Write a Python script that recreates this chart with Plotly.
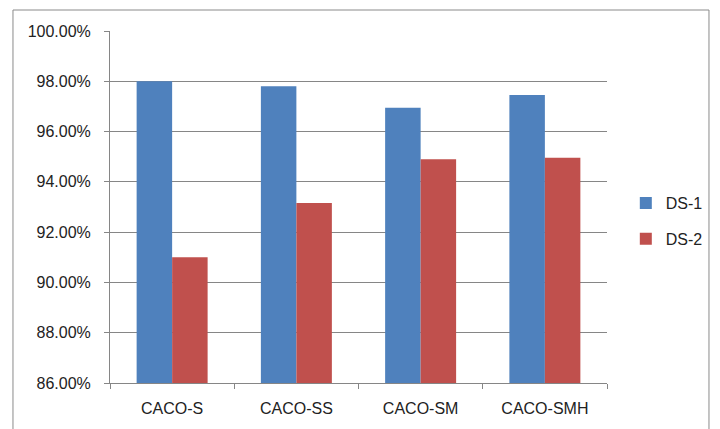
import plotly.graph_objects as go

categories = ["CACO-S", "CACO-SS", "CACO-SM", "CACO-SMH"]
ds1 = [0.980, 0.978, 0.9695, 0.9745]
ds2 = [0.910, 0.9316, 0.949, 0.9496]
series_names = ["DS-1", "DS-2"]
tick_vals = [0.86, 0.88, 0.90, 0.92, 0.94, 0.96, 0.98, 1.00]

W, H = 720, 429
L, R, T, B = 110, 108, 31, 46
pw = W - L - R
ph = H - T - B

FONT = "Liberation Sans"

fig = go.Figure()
fig.add_trace(go.Bar(x=categories, y=ds1, name=series_names[0],
                     marker=dict(color="#4F81BD", line=dict(width=0)),
                     legendgroup="a"))
fig.add_trace(go.Bar(x=categories, y=ds2, name=series_names[1],
                     marker=dict(color="#C0504D", line=dict(width=0)),
                     legendgroup="b"))

def px_to_paper_x(px):
    return (px - L) / pw

def px_to_paper_y(py):
    return (H - B - py) / ph

fig.update_layout(
    width=W, height=H,
    margin=dict(l=L, r=R, t=T, b=B, pad=0),
    paper_bgcolor="white", plot_bgcolor="white",
    barmode="group", bargap=0.4286, bargroupgap=0,
    font=dict(family=FONT, size=15, color="#222222"),
    showlegend=True,
    legend=dict(x=px_to_paper_x(631), xanchor="left",
                y=px_to_paper_y(186), yanchor="top",
                font=dict(family=FONT, size=16, color="#222222"),
                tracegroupgap=12, bgcolor="rgba(0,0,0,0)",
                itemwidth=30),
    xaxis=dict(showgrid=False, showline=True, linecolor="#868686", linewidth=1,
               ticks="outside", tickson="boundaries", ticklen=5, tickcolor="#868686",
               tickfont=dict(family=FONT, size=16, color="#222222"),
               ticklabelstandoff=11,
               fixedrange=True),
    yaxis=dict(range=[0.86, 1.00], tickvals=tick_vals, tickformat=".2%",
               showgrid=True, gridcolor="#868686", gridwidth=1,
               showline=True, linecolor="#868686", linewidth=1,
               ticks="outside", ticklen=5, tickcolor="#868686",
               tickfont=dict(family=FONT, size=16, color="#222222"),
               ticklabelstandoff=10,
               zeroline=False, fixedrange=True),
    shapes=[dict(type="rect", xref="paper", yref="paper",
                 x0=px_to_paper_x(12), x1=px_to_paper_x(715),
                 y0=px_to_paper_y(440), y1=px_to_paper_y(10),
                 line=dict(color="#8a8a8a", width=1), fillcolor="rgba(0,0,0,0)",
                 layer="below")],
)

fig.write_html("out.html")
